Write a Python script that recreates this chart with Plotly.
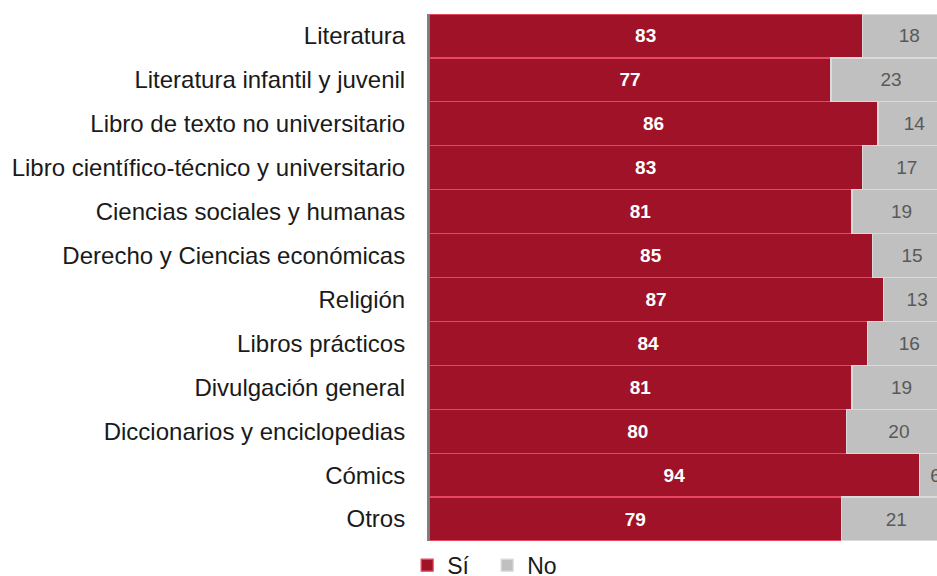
import plotly.graph_objects as go

categories = [
    "Literatura",
    "Literatura infantil y juvenil",
    "Libro de texto no universitario",
    "Libro científico-técnico y universitario",
    "Ciencias sociales y humanas",
    "Derecho y Ciencias económicas",
    "Religión",
    "Libros prácticos",
    "Divulgación general",
    "Diccionarios y enciclopedias",
    "Cómics",
    "Otros",
]
si_values = [83, 77, 86, 83, 81, 85, 87, 84, 81, 80, 94, 79]
no_values = [18, 23, 14, 17, 19, 15, 13, 16, 19, 20, 6, 21]

RED = "#a01228"
GRAY = "#c0c0c0"
FONT = "Liberation Sans, Arial, sans-serif"

fig = go.Figure()
fig.add_trace(go.Bar(
    name="Sí", y=categories, x=si_values, orientation="h",
    marker=dict(color=RED, line=dict(color="#e8475f", width=1.2)),
    text=si_values, texttemplate="%{text}", textposition="inside",
    insidetextanchor="middle",
    textfont=dict(color="white", size=19, family=FONT, weight="bold"),
    hoverinfo="skip",
))
fig.add_trace(go.Bar(
    name="No", y=categories, x=no_values, orientation="h",
    marker=dict(color=GRAY, line=dict(color="#dadada", width=1.2)),
    text=no_values, texttemplate="%{text}", textposition="inside",
    insidetextanchor="middle",
    textfont=dict(color="#595959", size=19, family=FONT),
    hoverinfo="skip",
))

fig.update_layout(
    width=937, height=576,
    barmode="stack", bargap=0,
    margin=dict(l=429, r=0, t=14, b=35, autoexpand=False),
    plot_bgcolor="white", paper_bgcolor="white",
    font=dict(family=FONT, size=24, color="#1a1a1a"),
    uniformtext=dict(mode=False),
    xaxis=dict(range=[0, 97.3], visible=False, fixedrange=True),
    yaxis=dict(
        autorange="reversed", showline=True, linecolor="#808080", linewidth=2,
        showgrid=False, ticks="", ticklabelstandoff=17, fixedrange=True,
        tickfont=dict(size=24, color="#1a1a1a"),
    ),
    legend=dict(
        orientation="h", traceorder="normal",
        x=-0.043, xanchor="left", y=-0.046, yanchor="middle",
        font=dict(size=23, color="#1a1a1a"),
        entrywidth=35, entrywidthmode="pixels",
        bgcolor="rgba(0,0,0,0)",
    ),
    showlegend=True,
)

fig.write_html(
    "out.html",
    config={"displayModeBar": False, "staticPlot": True},
    post_script="document.body.style.margin='0px';",
)
